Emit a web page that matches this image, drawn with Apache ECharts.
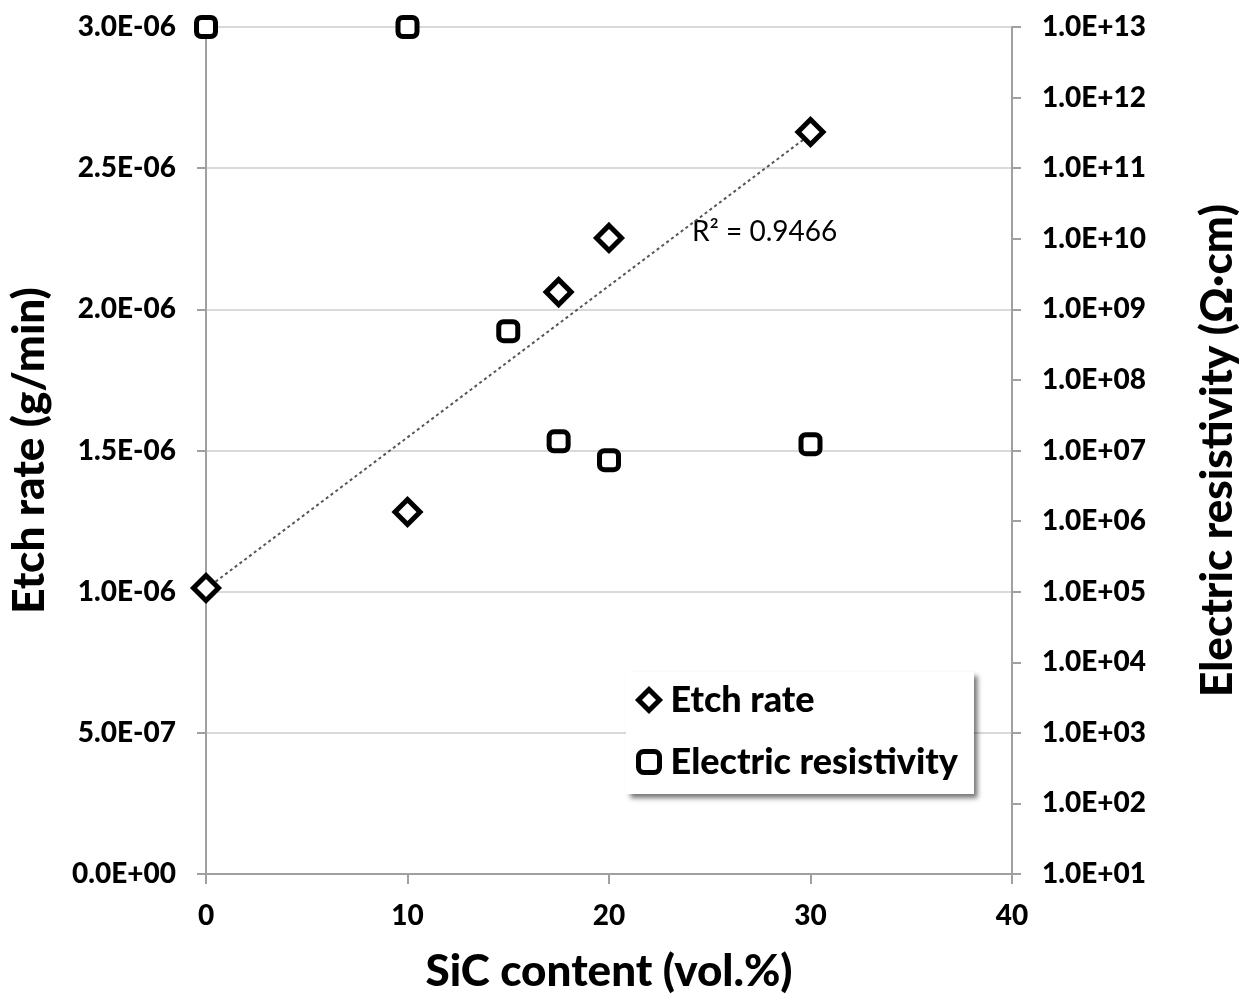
<!DOCTYPE html>
<html><head><meta charset="utf-8">
<script src="https://cdn.jsdelivr.net/npm/echarts@6/dist/echarts.min.js"></script>
<style>html,body{margin:0;padding:0;background:#fff}#c{width:1260px;height:1006px}</style>
</head><body><div id="c"></div>
<script>
const etchX = [0, 10, 17.5, 20, 30];
const etchY = [1.013e-6, 1.282e-6, 2.061e-6, 2.253e-6, 2.628e-6];
const resX = [0, 10, 15, 17.5, 20, 30];
const resY = [1e13, 1e13, 4.9e8, 1.35e7, 7.3e6, 1.23e7];
const trendX = [0, 30];
const trendY = [1.01e-6, 2.62e-6];
const xTicks = [0, 10, 20, 30, 40];
const r2Text = 'R² = 0.9466';

const FONT = 'Lato';
const W = 900;
function sciLabel(v) {
  if (v === 0) return '0.0E+00';
  const e = Math.floor(Math.log10(Math.abs(v)) + 1e-9);
  const m = v / Math.pow(10, e);
  const sign = e < 0 ? '-' : '+';
  const ae = Math.abs(e);
  return m.toFixed(1) + 'E' + sign + (ae < 10 ? '0' + ae : '' + ae);
}
const chart = echarts.init(document.getElementById('c'));
const axisLineStyle = { color: '#a0a0a0', width: 2 };
chart.setOption({
  animation: false,
  backgroundColor: '#fff',
  grid: { left: 205, right: 248, top: 27, bottom: 132 },
  xAxis: {
    type: 'value', min: xTicks[0], max: xTicks[xTicks.length - 1], interval: 10,
    name: 'SiC content (vol.%)', nameLocation: 'middle', nameGap: 76,
    nameTextStyle: { fontFamily: FONT, fontWeight: W, fontSize: 44, color: '#000' },
    axisLine: { lineStyle: axisLineStyle },
    axisTick: { show: true, length: 10, inside: false, lineStyle: axisLineStyle },
    axisLabel: { margin: 28, fontFamily: FONT, fontWeight: W, fontSize: 28, color: '#000' },
    splitLine: { show: false }
  },
  yAxis: [{
    type: 'value', min: 0, max: 3e-6, interval: 5e-7,
    name: 'Etch rate (g/min)', nameLocation: 'middle', nameGap: 154, nameRotate: 90,
    nameTextStyle: { fontFamily: FONT, fontWeight: W, fontSize: 44, color: '#000' },
    axisLine: { show: true, lineStyle: axisLineStyle },
    axisTick: { show: true, length: 9, lineStyle: axisLineStyle },
    axisLabel: { margin: 30, fontFamily: FONT, fontWeight: W, fontSize: 28, color: '#000', formatter: sciLabel },
    splitLine: { show: true, lineStyle: { color: '#d9d9d9', width: 2 } }
  }, {
    type: 'log', logBase: 10, min: 10, max: 1e13, interval: 1, splitNumber: 12,
    position: 'right',
    name: 'Electric resistivity (Ω·cm)', nameLocation: 'middle', nameGap: 184, nameRotate: 90,
    nameTextStyle: { fontFamily: FONT, fontWeight: W, fontSize: 44, color: '#000' },
    axisLine: { show: true, lineStyle: axisLineStyle },
    axisTick: { show: true, length: 9, lineStyle: axisLineStyle },
    axisLabel: { margin: 30, fontFamily: FONT, fontWeight: W, fontSize: 28, color: '#000', formatter: sciLabel },
    splitLine: { show: false }
  }],
  legend: {
    orient: 'vertical', left: 626, top: 672,
    data: [
      { name: 'Etch rate', itemStyle: { color: '#fff', borderColor: '#000', borderWidth: 5 } },
      { name: 'Electric resistivity', itemStyle: { color: '#fff', borderColor: '#000', borderWidth: 5 } }
    ],
    backgroundColor: '#fff',
    shadowColor: 'rgba(0,0,0,0.55)', shadowBlur: 5, shadowOffsetX: 4, shadowOffsetY: 4,
    padding: [10, 16, 14, 10], itemGap: 26, itemWidth: 21, itemHeight: 21,
    textStyle: { fontFamily: FONT, fontWeight: W, fontSize: 36, color: '#000', padding: [0, 0, 0, 6] }
  },
  series: [{
    name: 'Trend', type: 'line', yAxisIndex: 0, silent: true,
    data: trendX.map((x, i) => [x, trendY[i]]),
    symbol: 'none', lineStyle: { color: '#555', width: 2, type: [3, 3] }, z: 1
  }, {
    name: 'Etch rate', type: 'scatter', yAxisIndex: 0, clip: false,
    data: etchX.map((x, i) => [x, etchY[i]]),
    symbol: 'diamond', symbolSize: 25,
    itemStyle: { color: '#fff', borderColor: '#000', borderWidth: 5, opacity: 1 }, z: 3
  }, {
    name: 'Electric resistivity', type: 'scatter', yAxisIndex: 1, clip: false,
    data: resX.map((x, i) => [x, resY[i]]),
    symbol: 'roundRect', symbolSize: 19,
    itemStyle: { color: '#fff', borderColor: '#000', borderWidth: 5, opacity: 1 }, z: 3
  }],
  graphic: [{
    type: 'text', left: 692, top: 218,
    style: { text: r2Text, fontFamily: FONT, fontSize: 28, fill: '#000' }
  }]
});
</script></body></html>
